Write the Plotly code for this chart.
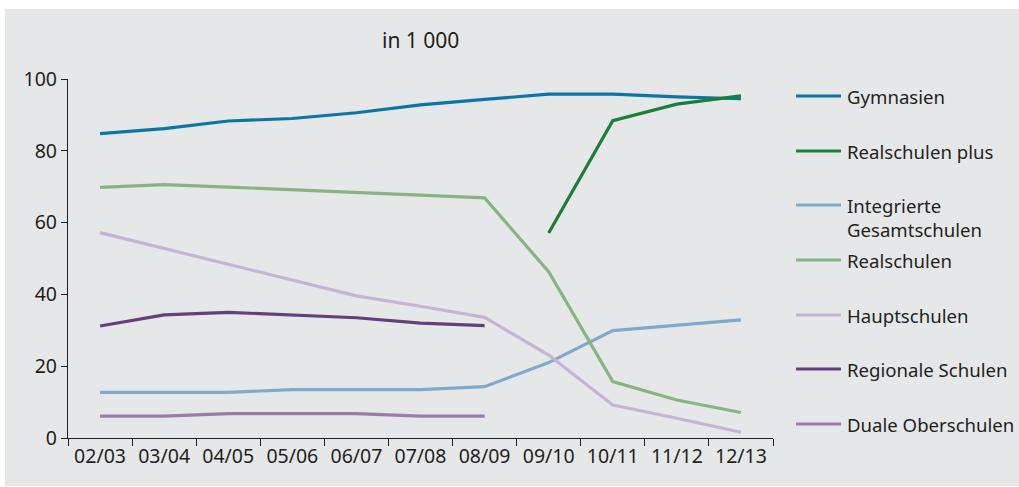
import plotly.graph_objects as go

# School years (category axis)
years = ["02/03", "03/04", "04/05", "05/06", "06/07", "07/08",
         "08/09", "09/10", "10/11", "11/12", "12/13"]

# Pupils per school type, in thousands (None = no data for that year)
gymnasien = [84.8, 86.2, 88.3, 89.0, 90.6, 92.8, 94.3, 95.8, 95.8, 95.0, 94.5]
realschulen_plus = [None, None, None, None, None, None, None, 57.1, 88.4, 93.0, 95.3]
integrierte_gesamtschulen = [12.7, 12.7, 12.7, 13.5, 13.5, 13.5, 14.3, 21.0, 29.9, 31.5, 32.9]
realschulen = [69.8, 70.6, 69.9, 69.1, 68.3, 67.6, 66.9, 46.3, 15.7, 10.6, 7.1]
hauptschulen = [57.2, 52.8, 48.3, 43.9, 39.6, 36.7, 33.6, 23.1, 9.2, 5.5, 1.6]
regionale_schulen = [31.2, 34.3, 35.0, 34.3, 33.5, 32.0, 31.3, None, None, None, None]
duale_oberschulen = [6.1, 6.1, 6.8, 6.8, 6.8, 6.1, 6.1, None, None, None, None]

# (legend label, values, colour)
series = [
    ("Gymnasien", gymnasien, "#0a76a8"),
    ("Realschulen plus", realschulen_plus, "#1b7f3b"),
    ("Integrierte<br>Gesamtschulen", integrierte_gesamtschulen, "#7eaad0"),
    ("Realschulen", realschulen, "#86b581"),
    ("Hauptschulen", hauptschulen, "#c6b4d6"),
    ("Regionale Schulen", regionale_schulen, "#643f7f"),
    ("Duale Oberschulen", duale_oberschulen, "#9b7bad"),
]

# vertical pixel position of each legend row (key line)
legend_rows = [96, 151, 205, 260, 315, 369, 424]

FONT = "Noto Sans"
TEXT = "#231f20"
PANEL = "#e6e7e9"
FS = 19.5
LEG_FS = 18.6

W, H = 1019, 487
ml, mr, mt, mb = 68, 246, 79, 49
pw, ph = W - ml - mr, H - mt - mb


def px_x(p):
    return (p - ml) / pw


def px_y(p):
    return (H - mb - p) / ph


fig = go.Figure()
shapes = [dict(
    type="rect", xref="paper", yref="paper", layer="below",
    x0=px_x(5), x1=px_x(W + 5), y0=px_y(H - 1), y1=px_y(9),
    fillcolor=PANEL, line=dict(width=0),
)]
annotations = [dict(
    text="in 1 000", xref="paper", yref="paper",
    x=px_x(421), y=px_y(40), xanchor="center", yanchor="middle",
    showarrow=False, font=dict(family=FONT, size=21, color=TEXT),
)]

for (label, vals, color), row in zip(series, legend_rows):
    fig.add_trace(go.Scatter(
        x=years, y=vals, name=label.replace("<br>", " "), mode="lines",
        line=dict(color=color, width=3.2), connectgaps=False,
        showlegend=False,
    ))
    shapes.append(dict(
        type="line", xref="paper", yref="paper",
        x0=px_x(796), x1=px_x(841), y0=px_y(row), y1=px_y(row),
        line=dict(color=color, width=3.2),
    ))
    annotations.append(dict(
        text=label, xref="paper", yref="paper",
        x=px_x(845), y=px_y(row - 14),
        xanchor="left", yanchor="top", align="left", showarrow=False,
        font=dict(family=FONT, size=LEG_FS, color=TEXT),
    ))

fig.update_layout(
    width=W, height=H,
    margin=dict(l=ml, r=mr, t=mt, b=mb),
    paper_bgcolor="white",
    plot_bgcolor="rgba(0,0,0,0)",
    font=dict(family=FONT, size=FS, color=TEXT),
    showlegend=False,
    shapes=shapes,
    annotations=annotations,
)

fig.update_xaxes(
    type="category", range=[-0.5, 10.5],
    showline=True, linecolor=TEXT, linewidth=1.2,
    ticks="outside", tickson="boundaries", ticklen=7, tickcolor=TEXT,
    showgrid=False, zeroline=False, tickfont=dict(size=FS),
)
fig.update_yaxes(
    range=[0, 100], tickvals=[0, 20, 40, 60, 80, 100],
    showline=True, linecolor=TEXT, linewidth=1.2,
    ticks="outside", ticklen=6, tickcolor=TEXT,
    showgrid=False, zeroline=False, tickfont=dict(size=FS),
)

fig.write_html("out.html")
